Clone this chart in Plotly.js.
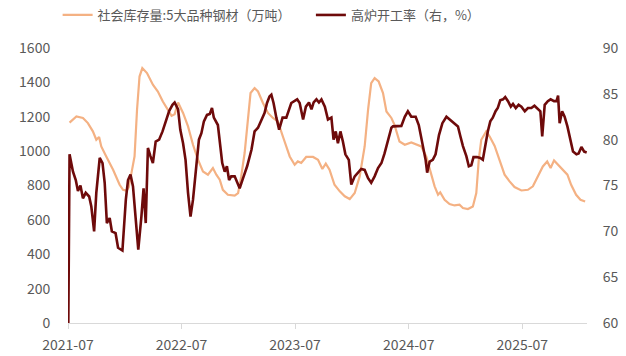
<!DOCTYPE html>
<html><head><meta charset="utf-8">
<script src="https://cdn.plot.ly/plotly-3.0.1.min.js"></script>
<style>html,body{margin:0;padding:0;background:#fff;}#chart{width:626px;height:356px;}</style>
</head><body><div id="chart"></div>
<script>
// 社会库存量:5大品种钢材（万吨）
const stockDates = ["2021-07-06","2021-07-28","2021-08-18","2021-09-03","2021-09-19","2021-09-30","2021-10-09","2021-10-16","2021-11-01","2021-11-23","2021-12-14","2021-12-25","2022-01-05","2022-01-12","2022-01-21","2022-01-31","2022-02-08","2022-02-16","2022-02-25","2022-03-12","2022-03-31","2022-04-16","2022-05-02","2022-05-18","2022-05-30","2022-06-09","2022-06-20","2022-07-06","2022-07-22","2022-08-07","2022-08-23","2022-09-08","2022-09-24","2022-10-10","2022-10-21","2022-11-01","2022-11-11","2022-11-27","2022-12-19","2022-12-30","2023-01-09","2023-01-20","2023-01-31","2023-02-08","2023-02-21","2023-03-04","2023-03-20","2023-04-05","2023-04-21","2023-05-07","2023-05-23","2023-06-14","2023-06-30","2023-07-10","2023-07-21","2023-08-06","2023-08-28","2023-09-13","2023-09-27","2023-10-08","2023-10-20","2023-11-05","2023-11-22","2023-12-08","2023-12-24","2024-01-09","2024-01-25","2024-02-10","2024-02-21","2024-03-02","2024-03-13","2024-03-26","2024-04-09","2024-04-20","2024-05-06","2024-05-16","2024-06-01","2024-06-18","2024-07-09","2024-07-25","2024-08-10","2024-08-26","2024-09-11","2024-09-22","2024-10-03","2024-10-10","2024-10-24","2024-11-09","2024-11-25","2024-12-11","2024-12-22","2025-01-07","2025-01-23","2025-02-03","2025-02-11","2025-02-19","2025-03-07","2025-03-18","2025-04-03","2025-04-19","2025-05-05","2025-05-21","2025-06-06","2025-06-28","2025-07-19","2025-08-04","2025-08-20","2025-09-05","2025-09-19","2025-09-30","2025-10-11","2025-10-23","2025-11-08","2025-11-23","2025-12-05","2025-12-21","2026-01-04","2026-01-19"];
const stockValues = [1166,1202,1193,1163,1115,1066,1082,1027,969,892,804,775,770,790,872,969,1241,1434,1483,1454,1386,1347,1289,1241,1205,1215,1283,1222,1144,1037,950,882,863,902,863,834,775,746,741,756,853,989,1183,1338,1367,1347,1280,1222,1193,1173,1085,969,921,940,931,966,966,950,896,927,892,804,766,737,721,756,853,1027,1241,1396,1425,1405,1338,1231,1193,1153,1056,1037,1050,1037,1027,969,872,795,746,760,717,692,684,688,669,663,678,756,950,1066,1115,1085,1030,940,863,824,791,771,775,795,853,911,940,902,946,921,892,863,804,746,717,707];

// 高炉开工率（右，%）
const bfDates = ["2021-07-02","2021-07-06","2021-07-17","2021-07-26","2021-08-02","2021-08-10","2021-08-18","2021-08-27","2021-09-07","2021-09-14","2021-09-23","2021-09-30","2021-10-11","2021-10-20","2021-10-27","2021-11-03","2021-11-12","2021-11-19","2021-12-01","2021-12-09","2021-12-23","2022-01-03","2022-01-10","2022-01-18","2022-01-26","2022-02-04","2022-02-12","2022-02-22","2022-03-01","2022-03-08","2022-03-15","2022-03-23","2022-03-31","2022-04-09","2022-04-20","2022-05-01","2022-05-11","2022-05-22","2022-06-02","2022-06-09","2022-06-20","2022-06-27","2022-07-06","2022-07-14","2022-07-22","2022-07-30","2022-08-07","2022-08-18","2022-08-26","2022-09-03","2022-09-11","2022-09-21","2022-09-30","2022-10-07","2022-10-13","2022-10-26","2022-11-01","2022-11-09","2022-11-17","2022-11-24","2022-12-01","2022-12-08","2022-12-19","2022-12-26","2023-01-04","2023-01-15","2023-01-28","2023-02-11","2023-02-21","2023-03-04","2023-03-15","2023-03-25","2023-04-02","2023-04-10","2023-04-16","2023-04-23","2023-05-02","2023-05-11","2023-05-22","2023-06-03","2023-06-19","2023-06-30","2023-07-08","2023-07-16","2023-07-27","2023-08-05","2023-08-15","2023-08-23","2023-08-30","2023-09-08","2023-09-16","2023-09-24","2023-10-05","2023-10-15","2023-10-26","2023-11-02","2023-11-09","2023-11-16","2023-11-24","2023-12-02","2023-12-10","2023-12-21","2023-12-29","2024-01-09","2024-01-19","2024-01-30","2024-02-10","2024-02-21","2024-03-02","2024-03-13","2024-03-24","2024-04-04","2024-04-14","2024-04-25","2024-05-06","2024-05-11","2024-05-22","2024-06-07","2024-06-18","2024-06-28","2024-07-09","2024-07-23","2024-08-02","2024-08-13","2024-08-24","2024-08-29","2024-09-06","2024-09-16","2024-09-25","2024-10-06","2024-10-17","2024-10-30","2024-11-09","2024-11-25","2024-12-06","2024-12-14","2024-12-22","2025-01-02","2025-01-10","2025-01-18","2025-01-25","2025-02-05","2025-02-16","2025-02-24","2025-03-05","2025-03-12","2025-03-20","2025-03-28","2025-04-06","2025-04-13","2025-04-21","2025-04-30","2025-05-07","2025-05-16","2025-05-25","2025-06-01","2025-06-10","2025-06-19","2025-06-28","2025-07-09","2025-07-19","2025-07-30","2025-08-09","2025-08-20","2025-08-28","2025-09-03","2025-09-11","2025-09-21","2025-09-30","2025-10-11","2025-10-19","2025-10-24","2025-10-29","2025-11-06","2025-11-14","2025-11-23","2025-12-03","2025-12-11","2025-12-22","2025-12-29","2026-01-07","2026-01-16","2026-01-24"];
const bfValues = [60,78.4,76.5,75.6,74.4,75.0,73.6,74.2,73.8,72.7,70.0,74.2,78.0,77.45,75.3,70.9,71.45,70.0,69.8,68.2,67.9,73.45,75.6,76.2,74.9,71.3,68.0,71.6,74.7,70.9,79.1,78.2,77.45,79.8,80.0,80.9,82.0,83.1,83.8,84.06,83.3,81.1,79.6,77.8,74.2,71.6,73.45,77.1,80.0,80.7,82.0,82.7,82.8,83.45,82.4,81.6,79.6,77.45,76.5,77.1,75.6,76.0,76.0,75.45,74.7,75.8,77.1,78.9,80.9,81.3,82.2,82.9,84.0,84.7,84.9,84.0,82.4,81.1,82.4,82.4,84.0,84.2,84.4,84.0,82.2,83.6,84.06,83.3,84.06,84.4,84.06,84.4,83.6,82.2,82.4,80.0,80.9,79.6,80.9,79.8,78.4,77.8,75.1,76.0,76.4,76.8,76.7,75.8,75.3,76.0,76.9,77.45,78.5,79.8,81.3,81.45,81.5,81.5,82.5,83.1,82.5,82.5,81.6,79.6,77.8,76.4,77.6,77.8,78.4,80.5,81.8,82.5,82.2,81.8,81.45,80.35,79.3,78.2,77.1,77.2,78.1,78.1,78.0,77.8,79.6,80.9,82.0,82.4,83.1,83.45,84.3,84.4,84.65,84.2,83.6,83.9,83.45,83.8,83.6,83.1,83.45,83.45,83.7,83.35,83.1,80.35,83.8,84.2,84.4,84.2,84.2,84.8,81.8,83.1,82.5,81.45,80.0,78.7,78.4,78.5,79.2,78.7,78.6];

const xTickVals = ["2021-07-01","2022-07-01","2023-07-01","2024-07-01","2025-07-01"];
const xTickText = ["2021-07","2022-07","2023-07","2024-07","2025-07"];

const txt = '#595959';
const traces = [
  {x: stockDates, y: stockValues, type: 'scatter', mode: 'lines', name: '社会库存量:5大品种钢材（万吨）',
   line: {color: '#F4B183', width: 2.2}, yaxis: 'y', legend: 'legend'},
  {x: bfDates, y: bfValues, type: 'scatter', mode: 'lines', name: '高炉开工率（右，%）',
   line: {color: '#6E0A0A', width: 2.6}, yaxis: 'y2', legend: 'legend2'}
];
const legendBase = {orientation: 'h', xanchor: 'left', y: 1.12, yanchor: 'middle',
  font: {size: 13, color: txt}, bgcolor: 'rgba(0,0,0,0)'};
const layout = {
  width: 626, height: 356,
  margin: {l: 68, r: 39, t: 48, b: 33, autoexpand: false},
  paper_bgcolor: '#fff', plot_bgcolor: '#fff',
  font: {family: '"Noto Sans CJK SC", "Noto Sans", sans-serif', size: 14, color: txt},
  showlegend: true,
  legend: Object.assign({}, legendBase, {x: -0.02}),
  legend2: Object.assign({}, legendBase, {x: 0.468}),
  xaxis: {type: 'date', range: ['2021-07-01', '2026-01-25'],
          tickvals: xTickVals, ticktext: xTickText,
          showgrid: false, zeroline: false, showline: true, linecolor: '#d9d9d9', linewidth: 1,
          ticks: 'outside', ticklen: 5, tickcolor: '#d9d9d9', ticklabelstandoff: 4,
          tickfont: {size: 14, color: txt}},
  yaxis: {range: [0, 1600], dtick: 200, showgrid: false, zeroline: false, showline: false,
          ticks: 'outside', ticklen: 14, tickcolor: 'rgba(0,0,0,0)', tickfont: {size: 14, color: txt}},
  yaxis2: {range: [60, 90], dtick: 5, overlaying: 'y', side: 'right', showgrid: false, zeroline: false,
           showline: false, ticks: 'outside', ticklen: 12, tickcolor: 'rgba(0,0,0,0)',
           tickfont: {size: 14, color: txt}}
};
Plotly.newPlot('chart', traces, layout, {displayModeBar: false, staticPlot: true});
</script></body></html>
